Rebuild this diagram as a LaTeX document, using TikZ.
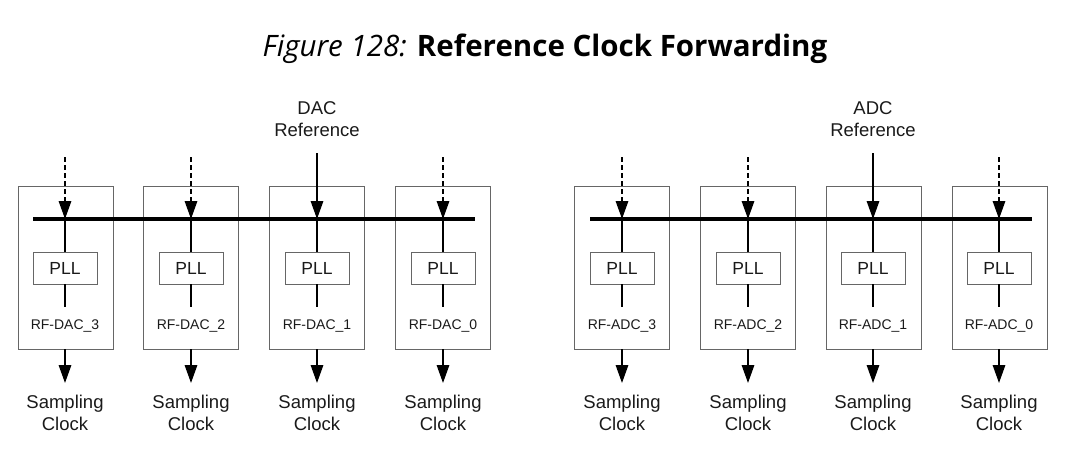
\documentclass[tikz,border=0pt]{standalone}
\usepackage{fontspec}
\setmainfont{Liberation Sans}
\newfontfamily\titlefont{Open Sans}
\usetikzlibrary{arrows.meta, positioning}
\definecolor{boxgray}{HTML}{666666}
\definecolor{labelgray}{HTML}{1A1A1A}

\begin{document}
\begin{tikzpicture}[x=1pt, y=-1pt,
  unit/.style={draw=boxgray, line width=0.8pt, minimum width=95pt, minimum height=163pt, inner sep=0pt},
  pll/.style={draw=boxgray, line width=0.8pt, minimum width=64pt, minimum height=32pt, inner sep=0pt, font=\fontsize{17.5}{20}\selectfont, text=labelgray},
  conv/.style={font=\fontsize{14}{16}\selectfont, text=labelgray, text height=10pt, text depth=3pt, inner xsep=0pt, inner ysep=12.5pt},
  clk/.style={align=center, anchor=north, inner xsep=0pt, inner ysep=12pt, font=\fontsize{18.5}{22}\selectfont, text=labelgray},
  ref/.style={align=center, anchor=south, inner xsep=0pt, inner ysep=16pt, font=\fontsize{18.5}{22}\selectfont, text=labelgray},
  sig/.style={line width=1.6pt, -{Triangle[length=18pt, width=12.5pt]}},
  fwd/.style={sig, dash pattern=on 5pt off 3pt},
  wire/.style={line width=1.6pt},
  bus/.style={line width=3.5pt}
]
\useasboundingbox (0,0) rectangle (1085,471);

% title
\node (title) at (545,49) {\titlefont\fontsize{29.5}{34}\selectfont{\itshape Figure 128:} \textbf{Reference Clock Forwarding}};

% DAC side
\node[unit] (d3) at (65.5,267.5) {};
\node[unit] (d2) at (191,267.5) {};
\node[unit] (d1) at (317,267.5) {};
\node[unit] (d0) at (442.5,267.5) {};
\node[pll] (pd3) at (65,268) {PLL};
\node[pll] (pd2) at (191,268) {PLL};
\node[pll] (pd1) at (317,268) {PLL};
\node[pll] (pd0) at (443,268) {PLL};
\node[conv] (nd3) at (65,326) {RF-DAC\_3};
\node[conv] (nd2) at (191,326) {RF-DAC\_2};
\node[conv] (nd1) at (317,326) {RF-DAC\_1};
\node[conv] (nd0) at (443,326) {RF-DAC\_0};
\node[clk] (sd3) at (65,383) {Sampling\\Clock};
\node[clk] (sd2) at (191,383) {Sampling\\Clock};
\node[clk] (sd1) at (317,383) {Sampling\\Clock};
\node[clk] (sd0) at (443,383) {Sampling\\Clock};
\node[ref] (refd) at (317,153) {DAC\\Reference};
\coordinate (td3) at (65,157);
\coordinate (td2) at (191,157);
\coordinate (td0) at (443,157);
\coordinate (busdl) at (33,219);
\coordinate (busdr) at (475,219);

\draw[bus] (busdl) -- (busdr);
\draw[fwd] (td3) -- (td3 |- busdl);
\draw[fwd] (td2) -- (td2 |- busdl);
\draw[sig] (refd) -- (refd |- busdl);
\draw[fwd] (td0) -- (td0 |- busdl);
\draw[wire] (pd3.north |- busdl) -- (pd3.north);
\draw[wire] (pd2.north |- busdl) -- (pd2.north);
\draw[wire] (pd1.north |- busdl) -- (pd1.north);
\draw[wire] (pd0.north |- busdl) -- (pd0.north);
\draw[wire] (pd3) -- (nd3);
\draw[wire] (pd2) -- (nd2);
\draw[wire] (pd1) -- (nd1);
\draw[wire] (pd0) -- (nd0);
\draw[sig] (sd3.north |- d3.south) -- (sd3);
\draw[sig] (sd2.north |- d2.south) -- (sd2);
\draw[sig] (sd1.north |- d1.south) -- (sd1);
\draw[sig] (sd0.north |- d0.south) -- (sd0);

% ADC side
\node[unit] (a3) at (621.5,267.5) {};
\node[unit] (a2) at (747.5,267.5) {};
\node[unit] (a1) at (873.5,267.5) {};
\node[unit] (a0) at (999.5,267.5) {};
\node[pll] (pa3) at (622,268) {PLL};
\node[pll] (pa2) at (748,268) {PLL};
\node[pll] (pa1) at (873,268) {PLL};
\node[pll] (pa0) at (999,268) {PLL};
\node[conv] (na3) at (622,326) {RF-ADC\_3};
\node[conv] (na2) at (748,326) {RF-ADC\_2};
\node[conv] (na1) at (873,326) {RF-ADC\_1};
\node[conv] (na0) at (999,326) {RF-ADC\_0};
\node[clk] (sa3) at (622,383) {Sampling\\Clock};
\node[clk] (sa2) at (748,383) {Sampling\\Clock};
\node[clk] (sa1) at (873,383) {Sampling\\Clock};
\node[clk] (sa0) at (999,383) {Sampling\\Clock};
\node[ref] (refa) at (873,153) {ADC\\Reference};
\coordinate (ta3) at (622,157);
\coordinate (ta2) at (748,157);
\coordinate (ta0) at (999,157);
\coordinate (busal) at (590,219);
\coordinate (busar) at (1032,219);

\draw[bus] (busal) -- (busar);
\draw[fwd] (ta3) -- (ta3 |- busal);
\draw[fwd] (ta2) -- (ta2 |- busal);
\draw[sig] (refa) -- (refa |- busal);
\draw[fwd] (ta0) -- (ta0 |- busal);
\draw[wire] (pa3.north |- busal) -- (pa3.north);
\draw[wire] (pa2.north |- busal) -- (pa2.north);
\draw[wire] (pa1.north |- busal) -- (pa1.north);
\draw[wire] (pa0.north |- busal) -- (pa0.north);
\draw[wire] (pa3) -- (na3);
\draw[wire] (pa2) -- (na2);
\draw[wire] (pa1) -- (na1);
\draw[wire] (pa0) -- (na0);
\draw[sig] (sa3.north |- a3.south) -- (sa3);
\draw[sig] (sa2.north |- a2.south) -- (sa2);
\draw[sig] (sa1.north |- a1.south) -- (sa1);
\draw[sig] (sa0.north |- a0.south) -- (sa0);
\end{tikzpicture}
\end{document}
